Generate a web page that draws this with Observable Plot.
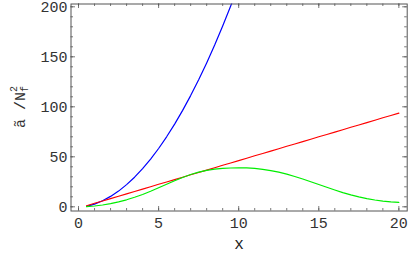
<!DOCTYPE html>
<html><head><meta charset="utf-8">
<script src="https://cdn.jsdelivr.net/npm/d3@7"></script>
<script src="https://cdn.jsdelivr.net/npm/@observablehq/plot@0.6"></script>
<style>body{margin:0;background:#fff}</style>
</head><body><div id="chart"></div>
<script>
const xs = [0.5,1,1.5,2,2.5,3,3.5,4,4.5,5,5.5,6,6.5,7,7.5,8,8.5,9,9.5,10,10.5,11,11.5,12,12.5,13,13.5,14,14.5,15,15.5,16,16.5,17,17.5,18,18.5,19,19.5,20];
const blue = [0.5,2.7,6.0,10.4,15.7,22.2,29.6,38.1,47.7,58.3,70,82.7,96.4,111.2,127,143.9,161.8,180.9,200.8,221.9];
const red = [1.1,3.5,5.8,8.2,10.6,12.9,15.3,17.7,20.1,22.5,24.8,27.2,29.6,32,34.3,36.7,39.1,41.5,43.8,46.2,48.6,51,53.3,55.7,58.1,60.5,62.8,65.2,67.6,70,72.3,74.7,77.1,79.5,81.8,84.2,86.6,89,91.3,93.7];
const green = [0.2,0.8,1.8,3.2,5,7,9.5,12.3,15.5,19,22.5,26,29.3,32.3,34.7,36.5,37.7,38.4,38.8,39.0,38.9,38.4,37.5,36.2,34.6,32.6,30.3,27.8,25.1,22.3,19.5,16.8,14.2,11.9,9.9,8.2,6.8,5.7,4.9,4.5];
const xTicks = [0,5,10,15,20];
const yTicks = [0,50,100,150,200];
const xMinor = d3.range(0,21,1);
const yMinor = d3.range(0,201,10);

const W = 416, Hh = 257;
const mL = 70.5, mR = 9.3, mT = 3.5, mB = 46.5;
const fw = W - mL - mR, fh = Hh - mT - mB;
const axisColor = "#555";
const textColor = "#333";

const rows = (ys) => ys.map((y, i) => ({x: xs[i], y}));

function ticksX(vals, len) {
  return [
    Plot.tickX(vals, {x: d => d, insetTop: fh - len, stroke: axisColor, strokeWidth: 0.8}),
    Plot.tickX(vals, {x: d => d, insetBottom: fh - len, stroke: axisColor, strokeWidth: 0.8})
  ];
}
function ticksY(vals, len) {
  return [
    Plot.tickY(vals, {y: d => d, insetRight: fw - len, stroke: axisColor, strokeWidth: 0.8}),
    Plot.tickY(vals, {y: d => d, insetLeft: fw - len, stroke: axisColor, strokeWidth: 0.8})
  ];
}

const chart = Plot.plot({
  width: W, height: Hh,
  marginLeft: mL, marginRight: mR, marginTop: mT, marginBottom: mB,
  style: {fontFamily: "'Liberation Mono', monospace", fontSize: "15px", background: "#fff"},
  x: {domain: [-0.47, 20.52]},
  y: {domain: [-4.2, 202.8]},
  marks: [
    Plot.line(rows(blue), {x: "x", y: "y", stroke: "#0000ff", strokeWidth: 1.2, clip: true}),
    Plot.line(rows(red), {x: "x", y: "y", stroke: "#ff0000", strokeWidth: 1.2, clip: true}),
    Plot.line(rows(green), {x: "x", y: "y", stroke: "#00ee00", strokeWidth: 1.2, clip: true}),
    Plot.frame({stroke: axisColor, strokeWidth: 1}),
    ...ticksX(xMinor, 2.5),
    ...ticksX(xTicks, 4.5),
    ...ticksY(yMinor, 2.5),
    ...ticksY(yTicks, 4.5),
    Plot.axisX(xTicks, {anchor: "bottom", tickSize: 0, tickPadding: 6, label: null, fill: textColor, fontSize: 15}),
    Plot.axisY(yTicks, {anchor: "left", tickSize: 0, tickPadding: 3.5, label: null, fill: textColor, fontSize: 15}),
    Plot.text(["x"], {frameAnchor: "bottom", dy: 38, text: d => d, fill: "#222", fontSize: 16})
  ]
});

const svg = d3.select(chart);
const yl = svg.append("text")
  .attr("transform", `translate(25,${mT + fh/2}) rotate(-90)`)
  .attr("text-anchor", "middle")
  .attr("fill", textColor)
  .attr("font-family", "'Liberation Mono', monospace")
  .attr("font-size", 15);
yl.append("tspan").text("ã /N");
yl.append("tspan").attr("font-size", 10).attr("dy", 3).text("f");
yl.append("tspan").attr("font-size", 10).attr("dx", -6).attr("dy", -11).text("2");

document.getElementById("chart").appendChild(chart);
</script>
</body></html>
